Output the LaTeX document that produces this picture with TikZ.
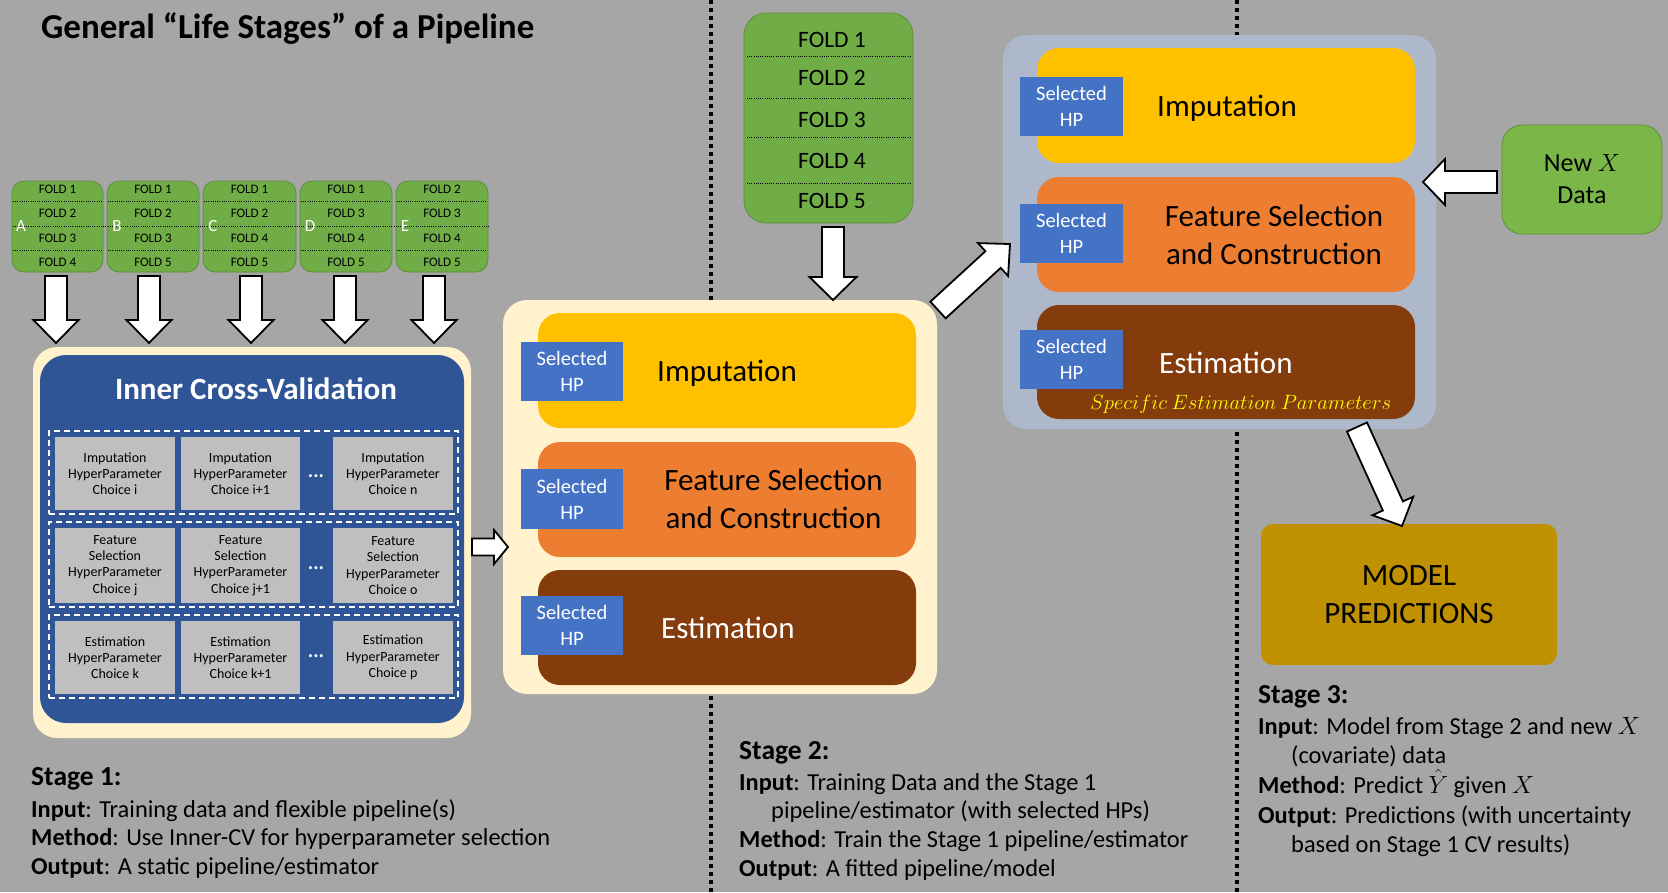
\documentclass[tikz,border=0pt]{standalone}
\usepackage{fontspec}
\setmainfont{Carlito}
\usetikzlibrary{calc}
\definecolor{bgGray}{HTML}{A6A6A6}
\definecolor{foldGreen}{HTML}{70AD47}
\definecolor{foldEdge}{HTML}{5A8C38}
\definecolor{newGreen}{HTML}{7AB648}
\definecolor{creamC}{HTML}{FFF2CC}
\definecolor{icvBlue}{HTML}{2F5597}
\definecolor{cellGray}{HTML}{BFBFBF}
\definecolor{impY}{HTML}{FFC000}
\definecolor{featO}{HTML}{ED7D31}
\definecolor{estB}{HTML}{843C0C}
\definecolor{hpBlue}{HTML}{4472C4}
\definecolor{sThreeBlue}{HTML}{ADB9CA}
\definecolor{modelGold}{HTML}{BF9000}
\definecolor{paramYellow}{HTML}{FFFF00}
\newcommand\fsz[2]{\fontsize{#1}{#2}\selectfont}
% block arrow: tail, tip, shaft half width, head half width, head length
\newcommand\blockarr[5]{%
  \path let \p1=($(#2)-(#1)$) in \pgfextra{%
    \pgfmathparse{veclen(\x1,\y1)}\xdef\baLen{\pgfmathresult}%
    \pgfmathparse{atan2(\y1,\x1)}\xdef\baAng{\pgfmathresult}};
  \begin{scope}[shift={(#1)},rotate=\baAng]
    \draw[barrow] (0pt,-#3pt) -- ({\baLen pt-#5pt},-#3pt) -- ({\baLen pt-#5pt},-#4pt)
      -- (\baLen pt,0pt) -- ({\baLen pt-#5pt},#4pt) -- ({\baLen pt-#5pt},#3pt) -- (0pt,#3pt) -- cycle;
  \end{scope}}
\begin{document}
\begin{tikzpicture}[x=1pt,y=-1pt,
  box/.style={inner sep=0pt, outer sep=0pt},
  smallfold/.style={box, fill=foldGreen, draw=foldEdge, line width=0.7pt, rounded corners=12pt, minimum height=91pt},
  bigfold/.style={box, fill=foldGreen, draw=foldEdge, line width=0.7pt, rounded corners=22pt},
  foldsep/.style={black, line width=0.8pt, dash pattern=on 1pt off 1.2pt},
  smalltxt/.style={inner sep=0pt, font=\fsz{13}{15}},
  bigtxt/.style={inner sep=0pt, font=\fsz{23.5}{28}},
  letter/.style={inner sep=0pt, text=white, font=\fsz{17}{19}},
  barrow/.style={fill=white, draw=black, line width=1.8pt, line join=miter},
  sepline/.style={black, line width=4pt, dash pattern=on 4pt off 4pt},
  creambox/.style={box, fill=creamC, rounded corners=24pt},
  dashbox/.style={box, draw=white, line width=1.8pt, dash pattern=on 6pt off 4pt, minimum width=409pt},
  cell/.style={box, fill=cellGray, align=center, font=\fsz{14}{16.3}},
  dots/.style={inner sep=0pt, text=white, font=\fsz{20}{22}\bfseries},
  stagebox/.style={box, rounded corners=22pt, minimum width=378pt, minimum height=115pt},
  hp/.style={box, fill=hpBlue, text=white, align=center, font=\fsz{20.5}{26}, minimum width=102pt, minimum height=59pt},
  boxtxt/.style={inner sep=0pt, font=\fsz{31}{38}},
  shead/.style={anchor=base west, inner sep=0pt, font=\fsz{27.5}{32}\bfseries},
  stxt/.style={anchor=base west, inner sep=0pt, font=\fsz{24.4}{29}}]
% background and separators
\fill[bgGray] (0,0) rectangle (1668,892);
\useasboundingbox (0,0) rectangle (1668,892);
\draw[sepline] (711,0) -- (711,892);
\draw[sepline] (1237,0) -- (1237,892);
\node[shead, font=\fsz{35}{40}\bfseries] (title) at (41,38) {General “Life Stages” of a Pipeline};
% ---------- Stage 1 folds ----------
\foreach \fn/\cx/\w/\fa/\fb/\fc/\fd in {A/57.5/91/1/2/3/4, B/153/92/1/2/3/5, C/249.5/93/1/2/4/5, D/346/92/1/3/4/5, E/442/92/2/3/4/5}{
  \node[smallfold, minimum width=\w pt] (f\fn) at (\cx,226.5) {};
  \draw[foldsep] ({\cx-\w/2+1},201.5) -- ({\cx+\w/2-1},201.5);
  \draw[foldsep] ({\cx-\w/2+1},250) -- ({\cx+\w/2-1},250);
  \node[smalltxt] (f\fn a) at (\cx,189) {FOLD \fa};
  \node[smalltxt] (f\fn b) at (\cx,213.5) {FOLD \fb};
  \node[smalltxt] (f\fn c) at (\cx,238) {FOLD \fc};
  \node[smalltxt] (f\fn d) at (\cx,262) {FOLD \fd};
}
\draw[foldsep] (13,226) -- (489,226);
\node[letter] (lA) at (21,226.5) {A};
\node[letter] (lB) at (117,226.5) {B};
\node[letter] (lC) at (213,226.5) {C};
\node[letter] (lD) at (310,226.5) {D};
\node[letter] (lE) at (405,226.5) {E};
% ---------- Stage 1 box ----------
\node[creambox, minimum width=438pt, minimum height=391pt] (s1) at (252,542.5) {};
\node[box, fill=icvBlue, rounded corners=26pt, minimum width=424pt, minimum height=368pt] (icvbox) at (252,539) {};
\node[anchor=base, inner sep=0pt, text=white, font=\fsz{31}{36}\bfseries] (icv) at (256,399) {Inner Cross-Validation};
\node[dashbox, minimum height=83pt] (rowI) at (253.5,472.5) {};
\node[dashbox, minimum height=85pt] (rowF) at (253.5,564.5) {};
\node[dashbox, minimum height=83pt] (rowE) at (253.5,656.5) {};
\node[cell, minimum width=120pt, minimum height=73pt] (ci1) at (115,473.5) {Imputation\\HyperParameter\\Choice i};
\node[cell, minimum width=119pt, minimum height=73pt] (ci2) at (240.5,473.5) {Imputation\\HyperParameter\\Choice i+1};
\node[cell, minimum width=120pt, minimum height=73pt] (ci3) at (393,473.5) {Imputation\\HyperParameter\\Choice n};
\node[cell, minimum width=120pt, minimum height=75pt] (cf1) at (115,565.5) {Feature\\Selection\\HyperParameter\\Choice j};
\node[cell, minimum width=119pt, minimum height=75pt] (cf2) at (240.5,565.5) {Feature\\Selection\\HyperParameter\\Choice j+1};
\node[cell, minimum width=120pt, minimum height=75pt] (cf3) at (393,565.5) {Feature\\Selection\\HyperParameter\\Choice o};
\node[cell, minimum width=120pt, minimum height=73pt] (ce1) at (115,657.5) {Estimation\\HyperParameter\\Choice k};
\node[cell, minimum width=119pt, minimum height=73pt] (ce2) at (240.5,657.5) {Estimation\\HyperParameter\\Choice k+1};
\node[cell, minimum width=120pt, minimum height=73pt] (ce3) at (393,657.5) {Estimation\\HyperParameter\\Choice p};
\node[dots] (dI) at (316,476) {...};
\node[dots] (dF) at (316,568) {...};
\node[dots] (dE) at (316,656) {...};
% ---------- Stage 2 ----------
\node[bigfold, minimum width=169pt, minimum height=210pt] (bf) at (828.5,118) {};
\foreach \yy in {56,98,137,183}{\draw[foldsep] (747,\yy) -- (910,\yy);}
\node[bigtxt] (bf1) at (832,39.5) {FOLD 1};
\node[bigtxt] (bf2) at (832,78) {FOLD 2};
\node[bigtxt] (bf3) at (832,120) {FOLD 3};
\node[bigtxt] (bf4) at (832,161) {FOLD 4};
\node[bigtxt] (bf5) at (832,200.5) {FOLD 5};
\node[creambox, minimum width=434pt, minimum height=394pt] (s2) at (720,497) {};
\node[stagebox, fill=impY] (s2i) at (727,370.5) {};
\node[stagebox, fill=featO] (s2f) at (727,499.5) {};
\node[stagebox, fill=estB] (s2e) at (727,627.5) {};
\node[hp] (hp2i) at (572,371.5) {Selected\\HP};
\node[hp, minimum height=60pt] (hp2f) at (572,499) {Selected\\HP};
\node[hp] (hp2e) at (572,625.5) {Selected\\HP};
\node[boxtxt, anchor=base west] (t2i) at (657,381) {Imputation};
\node[boxtxt, align=center] (t2f) at (773.5,499) {Feature Selection\\and Construction};
\node[boxtxt, anchor=base west, text=white] (t2e) at (661,638) {Estimation};
% ---------- Stage 3 ----------
\node[box, fill=sThreeBlue, rounded corners=24pt, minimum width=433pt, minimum height=394pt] (s3) at (1219.5,232) {};
\node[stagebox, fill=impY] (s3i) at (1226,105.5) {};
\node[stagebox, fill=featO] (s3f) at (1226,234.5) {};
\node[stagebox, fill=estB, minimum height=114pt] (s3e) at (1226,362) {};
\node[hp, minimum width=103pt] (hp3i) at (1071.5,106.5) {Selected\\HP};
\node[hp, minimum width=103pt] (hp3f) at (1071.5,233.5) {Selected\\HP};
\node[hp, minimum width=103pt] (hp3e) at (1071.5,359.5) {Selected\\HP};
\node[boxtxt, anchor=base west] (t3i) at (1157,116) {Imputation};
\node[boxtxt, align=center] (t3f) at (1274,234.5) {Feature Selection\\and Construction};
\node[boxtxt, anchor=base west, text=white] (t3e) at (1159,373) {Estimation};
\node[anchor=base west, inner sep=0pt, text=paramYellow, font=\fsz{21}{24}] (t3p) at (1090,409) {$Specific\ Estimation\ Parameters$};
\node[box, fill=newGreen, draw=foldEdge, line width=0.7pt, rounded corners=20pt, minimum width=160pt, minimum height=109pt, align=center, font=\fsz{26}{32}] (newx) at (1582,179.5) {New $X$\\Data};
\node[box, fill=modelGold, rounded corners=12pt, minimum width=296pt, minimum height=141pt, align=center, font=\fsz{31}{38}] (model) at (1409,594.5) {MODEL\\PREDICTIONS};
% ---------- block arrows ----------
\foreach \ar/\xx in {A/56,B/149,C/251,D/345,E/434}{
  \coordinate (dt\ar) at (\xx,276);
  \coordinate (dh\ar) at (\xx,343);
  \blockarr{dt\ar}{dh\ar}{11}{22.5}{23}
}
\coordinate (rt) at (472,547);
\coordinate (rh) at (508,547);
\blockarr{rt}{rh}{8.5}{17}{14}
\coordinate (bt) at (833,227);
\coordinate (bh) at (833,300);
\blockarr{bt}{bh}{11}{23.5}{23}
\coordinate (ut) at (938,310);
\coordinate (uh) at (1010,244);
\blockarr{ut}{uh}{11.3}{22.3}{23}
\coordinate (nt) at (1497,182);
\coordinate (nh) at (1423,182);
\blockarr{nt}{nh}{11}{23}{22}
\coordinate (mt) at (1357,427);
\coordinate (mh) at (1402,526);
\blockarr{mt}{mh}{11}{22.4}{22}
% ---------- stage texts ----------
\node[shead] (h1) at (31,785) {Stage 1:};
\node[stxt] (i1) at (31,817) {\textbf{Input}: Training data and flexible pipeline(s)};
\node[stxt] (me1) at (31,845) {\textbf{Method}: Use Inner-CV for hyperparameter selection};
\node[stxt] (o1) at (31,874) {\textbf{Output}: A static pipeline/estimator};
\node[shead] (h2) at (739,759) {Stage 2:};
\node[stxt] (i2) at (739,790) {\textbf{Input}: Training Data and the Stage 1};
\node[stxt] (i2b) at (771,818) {pipeline/estimator (with selected HPs)};
\node[stxt] (me2) at (739,847) {\textbf{Method}: Train the Stage 1 pipeline/estimator};
\node[stxt] (o2) at (739,876) {\textbf{Output}: A fitted pipeline/model};
\node[shead] (h3) at (1258,703) {Stage 3:};
\node[stxt] (i3) at (1258,734) {\textbf{Input}: Model from Stage 2 and new $X$};
\node[stxt] (i3b) at (1291,763) {(covariate) data};
\node[stxt] (me3) at (1258,793) {\textbf{Method}: Predict $\hat{Y}$ given $X$};
\node[stxt] (o3) at (1258,823) {\textbf{Output}: Predictions (with uncertainty};
\node[stxt] (o3b) at (1291,852) {based on Stage 1 CV results)};
\end{tikzpicture}
\end{document}
